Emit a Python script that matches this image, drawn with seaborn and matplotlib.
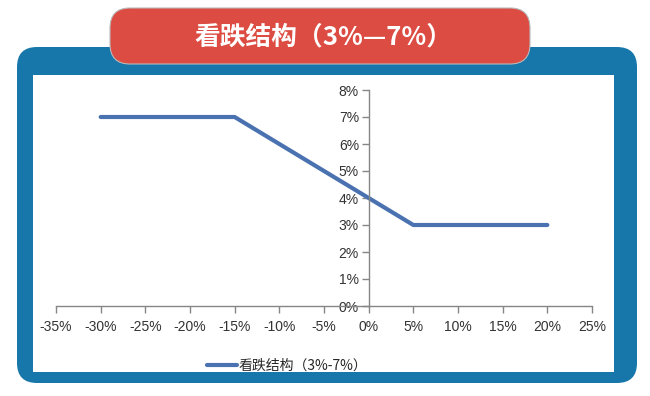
import matplotlib
matplotlib.use("Agg")
import matplotlib.pyplot as plt
import seaborn as sns
import pandas as pd
from matplotlib.patches import FancyBboxPatch, Rectangle
from matplotlib.ticker import FuncFormatter

# data (percent)
underlying_pct = [-30, -15, 5, 20]
payoff_pct = [7, 7, 3, 3]
x_ticks = list(range(-35, 30, 5))
y_ticks = list(range(0, 9, 1))
series_name = "看跌结构（3%-7%）"
title_text = "看跌结构（3%—7%）"

df = pd.DataFrame({"x": underlying_pct, "y": payoff_pct})

sns.set_style("white")
plt.rcParams["font.family"] = ["Liberation Sans", "Noto Sans CJK SC", "DejaVu Sans"]

W, H = 650, 396
fig = plt.figure(figsize=(W / 100, H / 100), dpi=100)
tr = fig.dpi_scale_trans

def box(x0, y0, x1, y1):
    # pixel box (top-left origin) -> inches
    return x0 / 100, (H - y1) / 100, (x1 - x0) / 100, (y1 - y0) / 100

# blue frame
x, y, w, h = box(17, 47, 637, 383)
fig.patches.append(FancyBboxPatch((x, y), w, h, boxstyle="round,pad=0,rounding_size=0.2",
                                  transform=tr, facecolor="#1877aa", edgecolor="none", zorder=0))
x, y, w, h = box(33, 75, 614, 372)
fig.patches.append(Rectangle((x, y), w, h, transform=tr, facecolor="white", edgecolor="none", zorder=1))
# red banner
x, y, w, h = box(110, 8, 530, 64)
fig.patches.append(FancyBboxPatch((x, y), w, h, boxstyle="round,pad=0,rounding_size=0.2",
                                  transform=tr, facecolor="#dc4c42", edgecolor="#b9b9b9",
                                  linewidth=0.8, zorder=2))
fig.text(323 / W, 1 - 37 / H, title_text, color="white", fontsize=18.5, fontweight="bold",
         ha="center", va="center", family=["Noto Sans CJK SC", "DejaVu Sans"], zorder=3)

# plot area: x -35..25 -> px 56..592, y 0..8 -> px 306..90
ax = fig.add_axes([56 / W, (H - 306) / H, 536 / W, 216 / H])
ax.set_zorder(5)
ax.patch.set_alpha(0)
sns.lineplot(data=df, x="x", y="y", ax=ax, color="#4a72b0", linewidth=3,
             label=series_name, sort=False)

ax.set_xlim(-35, 25)
ax.set_ylim(0, 8)
ax.set_xticks(x_ticks)
ax.set_yticks(y_ticks)
pct = FuncFormatter(lambda v, _: f"{v:.0f}%")
ax.xaxis.set_major_formatter(pct)
ax.yaxis.set_major_formatter(pct)
ax.set_xlabel("")
ax.set_ylabel("")

for s in ["top", "right"]:
    ax.spines[s].set_visible(False)
ax.spines["left"].set_position(("data", 0))
for s in ["left", "bottom"]:
    ax.spines[s].set_color("#868686")
    ax.spines[s].set_linewidth(1)
ax.tick_params(axis="both", direction="out", length=5, width=1, color="#868686",
               labelsize=10, labelcolor="#333333", bottom=True, left=True)
ax.tick_params(axis="x", pad=5)
ax.tick_params(axis="y", pad=2)

ax.legend(loc="center", bbox_to_anchor=(287 / W, 1 - 366 / H), bbox_transform=fig.transFigure,
          frameon=False, handlelength=2.2, handletextpad=0.1, borderaxespad=0,
          prop={"family": ["Noto Sans CJK SC", "DejaVu Sans"], "size": 10})

fig.savefig("out.png", dpi=100)
